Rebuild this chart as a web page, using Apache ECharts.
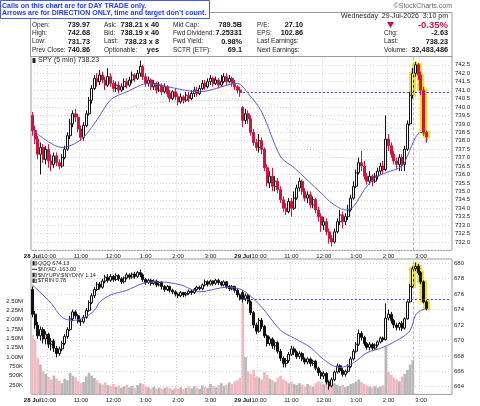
<!DOCTYPE html>
<html>
<head>
<meta charset="utf-8">
<script src="https://cdn.jsdelivr.net/npm/echarts@6/dist/echarts.min.js"></script>
<style>
  html, body { margin: 0; padding: 0; background: #fff; }
  #main { width: 480px; height: 406px; }
</style>
</head>
<body>
<div id="main"></div>
<script>
// 5 minute bars, two sessions 9:30 - 16:00
var sessionDays = ['28', '29'];
var dayLabels = { '28': '28 Jul', '29': '29 Jul' };
var hourLabels = { '10': '10:00', '11': '11:00', '12': '12:00', '13': '1:00', '14': '2:00', '15': '3:00' };

var categories = [];
sessionDays.forEach(function (d) {
  for (var m = 9 * 60 + 30; m < 16 * 60; m += 5) {
    var hh = Math.floor(m / 60), mm = m % 60;
    categories.push(d + '-' + (hh < 10 ? '0' : '') + hh + ':' + (mm < 10 ? '0' : '') + mm);
  }
});

// SPY [open, close, low, high]
var spyBars = [
  [739.5,738.6,738.3,739.7],[738.6,738.1,737.8,738.9],[738.1,737.2,736.9,738.3],[737.2,737.6,736.0,737.9],
  [737.6,736.9,736.7,737.8],[736.9,737.5,736.6,737.7],[737.5,736.8,736.4,737.8],[736.8,736.6,736.2,737.2],
  [736.6,737.1,736.4,737.3],[737.1,736.7,736.5,737.3],[736.7,736.5,736.3,736.9],[736.5,737.0,736.4,737.2],
  [737.0,737.5,736.9,737.7],[737.5,738.3,737.4,738.5],[738.3,739.0,738.1,739.3],[739.0,739.6,738.8,739.8],
  [739.6,739.4,739.1,739.9],[739.4,738.7,738.5,739.6],[738.7,738.2,738.0,738.9],[738.2,738.9,738.0,739.1],
  [738.9,739.6,738.8,739.8],[739.6,740.4,739.5,740.6],[740.4,741.1,740.2,741.3],[741.1,741.7,741.0,741.9],
  [741.7,741.5,741.2,742.0],[741.5,741.9,741.3,742.2],[741.9,741.6,741.4,742.1],[741.6,741.3,741.0,741.8],
  [741.3,741.8,741.2,742.3],[741.8,741.4,741.2,742.0],[741.4,741.1,740.9,741.6],[741.1,741.3,740.9,741.5],
  [741.3,741.0,740.8,741.5],[741.0,741.2,740.9,741.4],[741.2,741.5,741.0,741.7],[741.5,741.3,741.1,741.7],
  [741.3,741.6,741.2,741.8],[741.6,741.9,741.4,742.1],[741.9,741.7,741.5,742.0],[741.7,742.0,741.6,742.2],
  [742.0,742.4,741.8,742.75],[742.4,741.8,741.6,742.5],[741.8,741.4,741.2,742.0],[741.4,741.6,741.2,741.8],
  [741.6,741.2,741.0,741.7],[741.2,741.4,741.0,741.6],[741.4,741.0,740.8,741.5],[741.0,741.3,740.9,741.5],
  [741.3,740.9,740.7,741.4],[740.9,741.2,740.8,741.4],[741.2,740.8,740.6,741.3],[740.8,740.5,740.3,741.0],
  [740.5,740.9,740.4,741.0],[740.9,740.6,740.4,741.1],[740.6,740.3,740.1,740.8],[740.3,740.6,740.2,740.8],
  [740.6,740.4,740.2,740.7],[740.4,740.7,740.3,740.9],[740.7,740.5,740.3,740.9],[740.5,740.8,740.4,741.0],
  [740.8,741.0,740.6,741.2],[741.0,740.8,740.6,741.2],[740.8,741.1,740.7,741.3],[741.1,741.4,741.0,741.6],
  [741.4,741.2,741.0,741.6],[741.2,741.5,741.1,741.7],[741.5,741.7,741.3,741.9],[741.7,741.4,741.2,741.8],
  [741.4,741.6,741.3,741.8],[741.6,741.3,741.1,741.7],[741.3,741.5,741.2,741.9],[741.5,741.8,741.4,742.0],
  [741.8,741.5,741.3,742.0],[741.5,741.7,741.4,741.9],[741.7,741.4,741.2,741.8],[741.4,741.2,741.0,741.6],
  [741.2,741.0,740.8,741.3],[741.0,740.86,740.6,741.2],
  [739.97,739.2,738.8,740.05],[739.2,739.6,739.0,739.9],[739.6,739.3,739.0,739.8],[739.3,738.5,738.3,739.5],
  [738.5,737.9,737.7,738.7],[737.9,737.6,737.4,738.1],[737.6,738.0,737.3,738.4],[738.0,737.5,737.2,738.2],
  [737.5,736.4,736.2,737.6],[736.4,735.5,735.3,736.6],[735.5,735.9,735.2,736.2],[735.9,735.3,735.0,736.4],
  [735.3,735.6,735.0,735.9],[735.6,735.1,734.9,735.8],[735.1,734.5,734.3,735.3],[734.5,734.0,733.8,734.7],
  [734.0,733.8,733.6,734.3],[733.8,734.4,733.7,734.6],[734.4,734.0,733.5,734.6],[734.0,734.6,733.9,735.0],
  [734.6,735.2,734.5,735.4],[735.2,735.6,735.0,735.8],[735.6,735.0,734.8,735.7],[735.0,734.6,734.4,735.2],
  [734.6,734.8,734.3,735.0],[734.8,734.2,734.0,735.0],[734.2,734.5,734.0,734.7],[734.5,733.9,733.7,734.6],
  [733.9,733.5,733.2,734.1],[733.5,733.0,732.6,733.7],[733.0,733.2,732.7,733.5],[733.2,732.6,732.4,733.4],
  [732.6,732.2,731.9,732.8],[732.2,732.0,731.73,732.4],[732.0,732.6,731.9,732.8],[732.6,733.2,732.5,733.4],
  [733.2,733.6,733.0,733.9],[733.6,733.2,732.8,733.8],[733.2,733.5,733.0,733.7],[733.5,733.9,733.3,734.2],
  [733.9,734.6,733.8,734.8],[734.6,735.3,734.5,735.6],[735.3,736.1,735.2,736.3],[736.1,736.7,736.0,737.0],
  [736.7,736.5,736.2,737.4],[736.5,735.9,735.7,736.8],[735.9,735.6,735.4,736.1],[735.6,735.9,735.4,736.2],
  [735.9,735.6,735.3,736.0],[735.6,735.9,735.5,736.1],[735.9,736.2,735.7,736.4],[736.2,736.5,736.0,736.7],
  [736.5,736.3,736.0,736.8],[736.3,738.1,736.2,739.5],[738.1,737.7,737.4,738.4],[737.7,737.2,737.0,737.9],
  [737.2,736.8,736.6,737.4],[736.8,736.6,736.3,737.0],[736.6,737.0,736.2,737.2],[737.0,736.6,736.2,737.2],
  [736.6,737.5,736.2,737.7],[737.5,739.0,737.4,739.2],[739.0,740.7,738.9,740.9],[740.7,742.0,740.5,742.3],
  [742.0,742.5,741.8,742.68],[742.5,741.9,741.6,742.6],[741.9,741.0,740.7,742.1],[741.0,738.5,738.3,741.2],
  [738.5,738.23,737.9,738.6]
];

// QQQ [open, close, low, high]
var qqqBars = [
  [676.6,673.4,673.0,677.0],[673.4,672.0,671.5,673.8],[672.0,670.6,670.2,672.4],[670.6,671.4,670.0,671.8],
  [671.4,670.2,669.6,671.7],[670.2,670.8,669.5,671.2],[670.8,669.5,669.0,671.0],[669.5,669.9,668.7,670.3],
  [669.9,669.0,668.5,670.2],[669.0,668.3,667.8,669.3],[668.3,668.9,668.0,669.2],[668.9,669.6,668.6,669.9],
  [669.6,670.5,669.4,670.8],[670.5,671.4,670.2,671.7],[671.4,672.8,671.2,673.2],[672.8,673.7,672.5,674.0],
  [673.7,673.2,672.8,673.9],[673.2,672.5,672.2,673.4],[672.5,672.4,671.9,672.8],[672.4,673.0,672.2,673.3],
  [673.0,673.9,672.8,674.2],[673.9,674.9,673.7,675.2],[674.9,675.8,674.7,676.1],[675.8,676.6,675.5,676.9],
  [676.6,677.3,676.4,677.6],[677.3,676.9,676.6,677.6],[676.9,677.7,676.7,678.0],[677.7,678.2,677.4,678.5],
  [678.2,677.8,677.5,678.6],[677.8,678.3,677.6,678.6],[678.3,677.9,677.6,678.5],[677.9,678.4,677.7,678.7],
  [678.4,678.0,677.7,678.6],[678.0,677.6,677.3,678.2],[677.6,678.1,677.4,678.3],[678.1,678.5,677.9,678.8],
  [678.5,678.2,677.9,678.7],[678.2,678.6,678.0,678.8],[678.6,678.3,678.0,678.9],[678.3,678.8,678.1,679.0],
  [678.8,678.5,678.2,679.2],[678.5,677.9,677.6,678.7],[677.9,677.5,677.2,678.1],[677.5,677.8,677.3,678.0],
  [677.8,677.4,677.1,678.0],[677.4,677.7,677.2,677.9],[677.7,677.2,676.9,677.9],[677.2,677.5,677.0,677.7],
  [677.5,677.0,676.6,677.7],[677.0,676.6,676.3,677.2],[676.6,677.0,676.4,677.2],[677.0,676.5,676.2,677.1],
  [676.5,676.3,676.0,676.7],[676.3,676.0,675.7,676.5],[676.0,675.8,675.5,676.2],[675.8,676.2,675.6,676.4],
  [676.2,675.9,675.6,676.3],[675.9,676.1,675.7,676.3],[676.1,676.4,675.9,676.6],[676.4,676.2,675.9,676.6],
  [676.2,676.6,676.0,676.8],[676.6,676.9,676.4,677.1],[676.9,676.7,676.5,677.1],[676.7,677.2,676.5,677.4],
  [677.2,677.6,677.0,677.9],[677.6,677.3,677.0,677.8],[677.3,677.7,677.1,677.9],[677.7,677.4,677.1,677.8],
  [677.4,677.8,677.2,678.0],[677.8,677.5,677.2,678.0],[677.5,677.2,677.0,677.7],[677.2,677.6,677.0,677.8],
  [677.6,677.0,676.7,677.7],[677.0,676.7,676.4,677.2],[676.7,677.0,676.5,677.2],[677.0,676.5,676.2,677.1],
  [676.5,675.9,675.6,676.7],[675.9,675.36,675.2,676.1],
  [676.2,675.4,674.9,676.5],[675.4,675.8,675.1,676.1],[675.8,675.0,674.7,676.0],[675.0,673.6,673.3,675.2],
  [673.6,672.0,671.6,673.8],[672.0,671.2,670.8,672.3],[671.2,672.6,671.0,672.9],[672.6,671.8,671.5,672.9],
  [671.8,670.6,670.3,672.0],[670.6,669.6,669.2,670.8],[669.6,670.2,669.3,670.5],[670.2,669.3,668.9,670.4],
  [669.3,669.7,668.8,670.0],[669.7,668.6,668.3,669.9],[668.6,667.7,667.3,668.9],[667.7,667.0,666.5,667.9],
  [667.0,667.4,666.5,667.7],[667.4,668.2,667.1,668.5],[668.2,668.9,668.0,669.3],[668.9,668.5,668.1,669.2],
  [668.5,667.9,667.6,668.7],[667.9,668.3,667.6,668.6],[668.3,667.6,667.3,668.5],[667.6,667.2,666.9,667.8],
  [667.2,667.6,666.9,667.8],[667.6,667.0,666.6,667.8],[667.0,667.3,666.7,667.5],[667.3,666.4,666.1,667.5],
  [666.4,665.8,665.4,666.6],[665.8,665.4,665.0,666.1],[665.4,665.7,665.0,666.0],[665.7,664.6,664.3,665.9],
  [664.6,664.1,663.6,664.8],[664.1,664.9,663.9,665.2],[664.9,665.9,664.7,666.1],[665.9,666.7,665.7,667.0],
  [666.7,666.1,665.8,666.9],[666.1,665.6,665.3,666.4],[665.6,666.0,665.3,666.2],[666.0,666.6,665.8,666.9],
  [666.6,667.6,666.4,667.9],[667.6,668.6,667.4,668.9],[668.6,669.5,668.4,669.8],[669.5,670.9,669.3,671.4],
  [670.9,670.4,670.0,671.2],[670.4,669.6,669.3,670.6],[669.6,669.1,668.8,669.8],[669.1,669.5,668.7,669.8],
  [669.5,669.0,668.7,669.7],[669.0,669.4,668.8,669.6],[669.4,669.8,669.2,670.0],[669.8,670.3,669.6,670.5],
  [670.3,670.1,669.8,670.5],[670.1,672.9,670.0,674.8],[672.9,673.4,672.6,674.0],[673.4,672.6,672.2,673.7],
  [672.6,672.0,671.6,672.8],[672.0,671.7,671.3,672.3],[671.7,672.2,671.3,672.4],[672.2,671.6,671.2,672.5],
  [671.6,672.8,671.4,673.0],[672.8,675.0,672.7,675.2],[675.0,677.0,674.9,677.3],[677.0,679.3,676.8,679.6],
  [679.3,679.6,679.0,680.1],[679.6,678.8,678.5,679.9],[678.8,677.6,677.3,679.0],[677.6,675.0,674.8,677.8],
  [675.0,674.13,673.9,675.2]
];

// volume in millions (shown until the 2:45 bar)
var volumeM = [
  1.60,1.45,0.98,0.80,0.62,0.55,0.47,0.40,0.50,0.42,0.36,0.30,0.42,0.38,0.58,0.50,0.45,0.35,0.30,0.33,
  0.48,0.58,0.50,0.44,0.38,0.30,0.27,0.32,0.25,0.22,0.28,0.20,0.24,0.18,0.22,0.26,0.19,0.23,0.17,0.25,
  0.30,0.28,0.22,0.19,0.16,0.20,0.15,0.18,0.14,0.17,0.20,0.16,0.13,0.18,0.15,0.19,0.14,0.17,0.21,0.16,
  0.22,0.18,0.15,0.24,0.20,0.17,0.28,0.22,0.19,0.25,0.30,0.23,0.26,0.32,0.28,0.35,0.38,0.45,
  2.45,1.00,0.62,0.55,0.66,0.48,0.45,0.40,0.60,0.52,0.42,0.38,0.33,0.45,0.50,0.40,0.36,0.30,0.34,0.28,
  0.25,0.30,0.26,0.22,0.28,0.24,0.20,0.30,0.35,0.32,0.27,0.33,0.40,0.36,0.30,0.26,0.22,0.25,0.20,0.23,
  0.28,0.30,0.35,0.40,0.33,0.28,0.24,0.21,0.19,0.22,0.18,0.21,0.25,1.28,0.60,0.52,0.45,0.40,0.35,0.48,
  0.55,0.66,0.80,0.92
];

// moving averages: [bar index, value]
var spyMA = [[0,738.65],[11,737.6],[18,738.06],[24,739.25],[29,740.43],[35,740.9],[43,741.4],[47,741.3],
  [62,740.9],[76,741.4],[80,740.8],[85,739.7],[92,737.05],[97,736.4],[107,734.9],[111,734.3],[116,733.9],
  [119,734.1],[123,735.1],[127,735.8],[131,736.1],[137,736.5],[139,737.1],[142,738.2],[144,738.5],[146,738.35]];
var spyMA50 = [[0,740.13],[25,739.7],[47,740.25],[77,740.4],[107,739.4],[140,738.65]];
var spyMA200 = [[12,737.8],[25,739.25],[47,740.3],[77,740.4],[107,737.3],[126,736.9],[145,737.5]];
var qqqMA = [[0,677.2],[7,674.8],[11,673.0],[15,672.6],[19,672.9],[23,673.9],[25,675.0],[29,675.9],
  [35,676.5],[41,677.4],[47,677.6],[55,677.2],[62,676.3],[72,676.9],[78,676.5],[85,674.3],[92,671.3],
  [97,670.3],[103,669.1],[107,667.8],[111,666.8],[114,666.5],[119,667.1],[124,668.4],[130,669.1],
  [137,670.4],[140,671.3],[142,673.3],[144,673.9],[146,674.1]];

var spyPrevClose = 740.86;
var qqqPrevClose = 675.36;
var markBar = 141;          // 2:45 pm, highlighted bars from here

var callLines = [
  'Calls on this chart are for DAY TRADE only.',
  'Arrows are for DIRECTION ONLY, time and target don\u2019t count.'
];
var infoRows = [
  ['Open:', '739.97', 'Ask:', '738.21 x 40', 'Mkt Cap:', '789.5B', 'P/E:', '27.10'],
  ['High:', '742.68', 'Bid:', '738.19 x 40', 'Fwd Dividend:', '7.25331', 'EPS:', '102.86'],
  ['Low:', '731.73', 'Last:', '738.23 x 8', 'Fwd Yield:', '0.98%', 'Last Earnings:', ''],
  ['Prev Close:', '740.86', 'Optionable:', 'yes', 'SCTR (ETF):', '69.1', 'Next Earnings:', '']
];
var quoteRows = [['Chg:', '-2.63'], ['Last:', '738.23'], ['Volume:', '32,483,486']];
var quoteDate = 'Wednesday  29-Jul-2026  3:10 pm';
var quotePct = '-0.35%';
var lowerLegend = ['QQQ 674.13', '$NYAD -163.00', '$NYUPV:$NYDNV 1.14', '$TRIN 0.78'];

var FONT = '"Liberation Sans", Arial, sans-serif';

function isTick(index, value) {
  var v = categories[index];
  return v.slice(3) === '09:30' || v.slice(-2) === '00';
}
function timeLabel(value) {
  if (value.slice(3) === '09:30') return '{d|' + dayLabels[value.slice(0, 2)] + '}';
  if (value.slice(-2) === '00') return hourLabels[value.slice(3, 5)] || '';
  return '';
}
function timeAxis(gi) {
  return {
    type: 'category', gridIndex: gi, data: categories, boundaryGap: true,
    axisLine: { show: false }, axisTick: { show: false },
    axisLabel: { interval: isTick, formatter: timeLabel, fontSize: 6, fontFamily: FONT, color: '#222', margin: 3,
      rich: { d: { fontWeight: 'bold', fontSize: 6, fontFamily: FONT, color: '#111' } } },
    splitLine: { show: true, interval: isTick, lineStyle: { color: '#cfcfcf', width: 1, type: [1, 2] } }
  };
}

var glowStyle = { color: '#f5e21d', color0: '#f5e21d', borderColor: '#f5e21d', borderColor0: '#f5e21d', borderWidth: 3 };

var volumeData = volumeM.map(function (v, i) {
  var b = spyBars[i];
  return { value: v * 1e6, itemStyle: { color: b[1] < b[0] ? '#f2b9c1' : '#b8b8b8' } };
});

// text and boxes around the chart
var g = [];
function txt(x, y, s, font, fill, align) {
  g.push({ type: 'text', x: x, y: y, z: 100, silent: true,
    style: { text: s, font: font, fill: fill || '#222', align: align || 'left', verticalAlign: 'middle' } });
}
g.push({ type: 'rect', z: 90, shape: { x: 30.5, y: 12.5, width: 421.5, height: 44 }, style: { fill: '#fff', stroke: '#9a9a9a', lineWidth: 1 } });
g.push({ type: 'rect', z: 95, shape: { x: 0.5, y: 0.5, width: 209, height: 18 }, style: { fill: '#fff', stroke: '#4a5ae6', lineWidth: 1 } });
txt(2, 6, callLines[0], 'bold 7px ' + FONT, '#1f3cf2');
txt(2, 13.5, callLines[1], 'bold 7px ' + FONT, '#1f3cf2');
txt(452, 6, '\u00a9StockCharts.com', '7px ' + FONT, '#666', 'right');
txt(448, 16, quoteDate, '7px ' + FONT, '#222', 'right');

var rowY = [25, 33.3, 41.6, 50];
var labelX = [32, 104, 173, 257];
var valueX = [90, 159, 242, 303];
infoRows.forEach(function (r, ri) {
  for (var c = 0; c < 4; c++) {
    txt(labelX[c], rowY[ri], r[c * 2], '6.5px ' + FONT, '#222');
    if (r[c * 2 + 1]) txt(valueX[c], rowY[ri], r[c * 2 + 1], 'bold 7.3px ' + FONT, '#111', 'right');
  }
});
g.push({ type: 'polygon', z: 100, shape: { points: [[387, 22], [394, 22], [390.5, 28]] }, style: { fill: '#c8143c' } });
txt(448, 25.5, quotePct, 'bold 9.5px ' + FONT, '#c8143c', 'right');
quoteRows.forEach(function (r, ri) {
  txt(384, rowY[ri + 1], r[0], '6.5px ' + FONT, '#222');
  txt(448, rowY[ri + 1], r[1], 'bold 7.3px ' + FONT, '#111', 'right');
});

// legends
g.push({ type: 'rect', z: 100, shape: { x: 32.5, y: 58, width: 3, height: 5 }, style: { fill: '#222' } });
txt(38, 60.5, 'SPY (5 min) 738.23', '7px ' + FONT, '#222');
var legY = [263.3, 269.3, 275, 280.7];
lowerLegend.forEach(function (s, i) {
  if (i === 1) {
    g.push({ type: 'line', z: 100, shape: { x1: 32, y1: legY[i], x2: 37, y2: legY[i] }, style: { stroke: '#222', lineWidth: 1 } });
  } else {
    g.push({ type: 'rect', z: 100, shape: { x: 32.5, y: legY[i] - 2.2, width: 2, height: 4.4 }, style: { fill: '#222' } });
    g.push({ type: 'rect', z: 100, shape: { x: 35, y: legY[i] - 1.6, width: 1.6, height: 3.4 }, style: { fill: '#fff', stroke: '#222', lineWidth: 0.6 } });
  }
  txt(38, legY[i], s, '5.5px ' + FONT, '#222');
});

var chart = echarts.init(document.getElementById('main'));
chart.setOption({
  animation: false,
  backgroundColor: '#fff',
  grid: [
    { left: 31, right: 28, top: 56.4, height: 194, show: true, borderColor: '#9a9a9a', borderWidth: 1, backgroundColor: '#fff', outerBoundsMode: 'none' },
    { left: 31, right: 28, top: 259, height: 135.4, show: true, borderColor: '#9a9a9a', borderWidth: 1, backgroundColor: '#fff', outerBoundsMode: 'none' }
  ],
  xAxis: [timeAxis(0), timeAxis(1)],
  yAxis: [
    { type: 'value', gridIndex: 0, position: 'right', min: 731.5, max: 743, interval: 0.5, scale: true,
      axisLine: { show: false }, axisTick: { show: false },
      axisLabel: { fontSize: 6, fontFamily: FONT, color: '#222', margin: 3,
        formatter: function (v) { return (v < 731.9 || v > 742.6) ? '' : v.toFixed(1); } },
      splitLine: { lineStyle: { color: '#d4d4d4', type: [1, 2] } } },
    { type: 'value', gridIndex: 1, position: 'right', min: 663, max: 680.56, interval: 1, scale: true,
      axisLine: { show: false }, axisTick: { show: false },
      axisLabel: { fontSize: 6, fontFamily: FONT, color: '#222', margin: 2,
        formatter: function (v) { return (Math.round(v) % 2 === 0) ? String(Math.round(v)) : ''; } },
      splitLine: { lineStyle: { color: ['rgba(0,0,0,0)', '#d4d4d4'], type: [1, 2] } } },
    { type: 'value', gridIndex: 1, position: 'left', min: 0, max: 3630000, interval: 250000,
      axisLine: { show: false }, axisTick: { show: false }, splitLine: { show: false },
      axisLabel: { fontSize: 6, fontFamily: FONT, color: '#222', margin: 8,
        formatter: function (v) {
          if (v <= 0 || v > 2500000) return '';
          return v >= 1e6 ? (v / 1e6).toFixed(2) + 'M' : (v / 1e3) + 'K';
        } } }
  ],
  series: [
    { type: 'candlestick', xAxisIndex: 0, yAxisIndex: 0, z: 2, barWidth: 4.5,
      data: spyBars.map(function (b, i) { return i >= markBar ? b : '-'; }), itemStyle: glowStyle },
    { type: 'line', xAxisIndex: 0, yAxisIndex: 0, z: 3, data: spyMA50, smooth: 0.4, showSymbol: false, silent: true,
      lineStyle: { color: '#cfdccb', width: 1, type: [1, 2] } },
    { type: 'line', xAxisIndex: 0, yAxisIndex: 0, z: 3, data: spyMA200, smooth: 0.4, showSymbol: false, silent: true,
      lineStyle: { color: '#f4c3ca', width: 1, type: [1, 2] } },
    { type: 'candlestick', xAxisIndex: 0, yAxisIndex: 0, z: 4, barWidth: 2.5, data: spyBars,
      itemStyle: { color: '#ffffff', color0: '#d3123e', borderColor: '#111', borderColor0: '#d3123e', borderWidth: 1 },
      markLine: { symbol: 'none', silent: true, label: { show: false },
        data: [
          [{ coord: [78, spyPrevClose], lineStyle: { color: '#3b3bd0', type: [2, 2], width: 1 } }, { coord: [155, spyPrevClose] }],
          { xAxis: markBar, lineStyle: { color: '#f0b53a', type: [3, 2], width: 1 } }
        ] } },
    { type: 'line', xAxisIndex: 0, yAxisIndex: 0, z: 5, data: spyMA, smooth: 0.3, showSymbol: false, silent: true,
      lineStyle: { color: '#5a5ad2', width: 1 } },

    { type: 'bar', xAxisIndex: 1, yAxisIndex: 2, z: 1, barCategoryGap: '0%', data: volumeData, silent: true },
    { type: 'candlestick', xAxisIndex: 1, yAxisIndex: 1, z: 2, barWidth: 4.5,
      data: qqqBars.map(function (b, i) { return i >= markBar ? b : '-'; }), itemStyle: glowStyle },
    { type: 'candlestick', xAxisIndex: 1, yAxisIndex: 1, z: 4, barWidth: 2.5, data: qqqBars,
      itemStyle: { color: '#ffffff', color0: '#111', borderColor: '#111', borderColor0: '#111', borderWidth: 1 },
      markLine: { symbol: 'none', silent: true, label: { show: false },
        data: [
          [{ coord: [78, qqqPrevClose], lineStyle: { color: '#3b3bd0', type: [2, 2], width: 1 } }, { coord: [155, qqqPrevClose] }],
          { xAxis: markBar, lineStyle: { color: '#f0b53a', type: [3, 2], width: 1 } }
        ] } },
    { type: 'line', xAxisIndex: 1, yAxisIndex: 1, z: 5, data: qqqMA, smooth: 0.3, showSymbol: false, silent: true,
      lineStyle: { color: '#5a5ad2', width: 1 } }
  ],
  graphic: g
});
</script>
</body>
</html>
